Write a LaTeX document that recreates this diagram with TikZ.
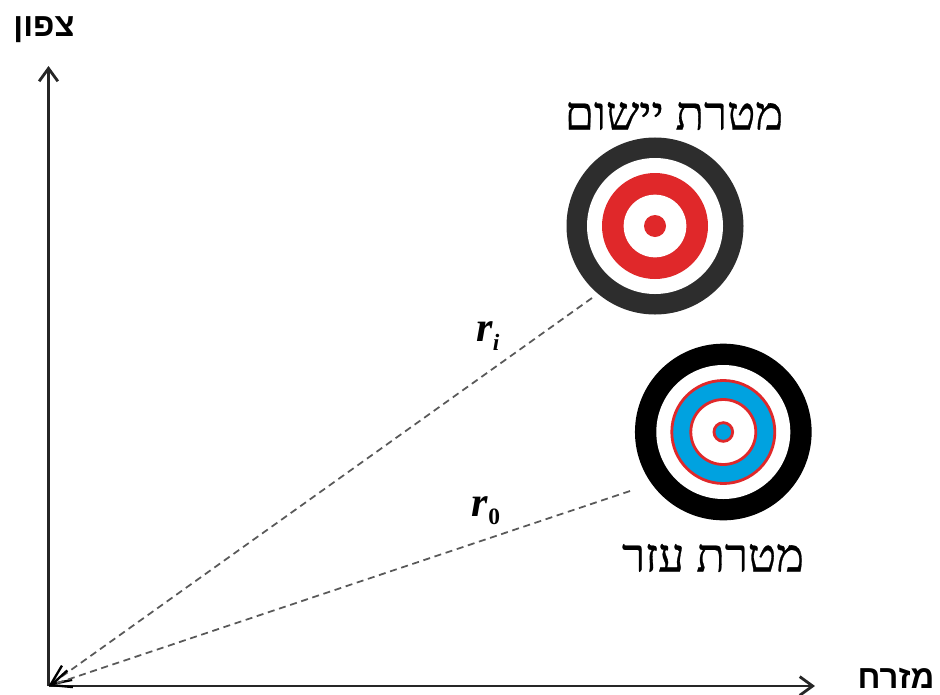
\documentclass[tikz,border=0pt]{standalone}
\usepackage{fontspec}
\usetikzlibrary{arrows.meta}
\TeXXeTstate=1
\newfontfamily\hebserif[Script=Hebrew,FakeBold=0.6]{Liberation Serif}
\newfontfamily\hebsans[Script=Hebrew]{Liberation Sans}
\setmainfont{Liberation Serif}
\definecolor{ringdark}{HTML}{2D2D2D}
\definecolor{ringred}{HTML}{E0282A}
\definecolor{ringblue}{HTML}{00A2E0}
\newcommand{\raysub}[1]{\raisebox{-7pt}{\fontsize{20}{20}\selectfont #1}}
\tikzset{
  axisline/.style={-{Straight Barb[length=11pt,width=16pt]},line width=2.4pt,black!85},
  rayline/.style={-{Straight Barb[length=17pt,width=15pt,color=black,line width=2pt]},dash pattern=on 6pt off 4pt,line width=1.5pt,black!65},
  ring/.style={circle,inner sep=0pt,fill=#1},
  thinring/.style={circle,inner sep=0pt,fill=#1,draw=ringred,line width=2.4pt},
  targetlabel/.style={font=\hebserif\fontsize{40}{40}\selectfont},
  axislabel/.style={font=\hebsans\bfseries\fontsize{28}{28}\selectfont},
  raylabel/.style={font=\bfseries\itshape\fontsize{36}{36}\selectfont}
}
\begin{document}
\begin{tikzpicture}[x=0.03cm,y=-0.03cm]
\useasboundingbox (0,0) rectangle (940,695);
\coordinate (origin) at (48.5,686);
\coordinate (north) at (48.5,66);
\coordinate (east) at (815,686);
\coordinate (rayi) at (592,298);
\coordinate (rayo) at (630,491);
\draw[axisline] (origin)--(north);
\draw[axisline] (origin)--(east);
\draw[rayline] (rayi)--(origin);
\draw[rayline] (rayo)--(origin);
\node[ring=ringdark,minimum size=5.31cm] (maintarget) at (655,226) {};
\node[ring=white,minimum size=4.08cm] (mainwhite) at (maintarget) {};
\node[ring=ringred,minimum size=3.18cm] (mainred) at (maintarget) {};
\node[ring=white,minimum size=1.88cm] (maininner) at (maintarget) {};
\node[ring=ringred,minimum size=0.66cm] (maindot) at (maintarget) {};
\node[ring=black,minimum size=5.3cm] (auxtarget) at (723.3,432) {};
\node[ring=white,minimum size=4.02cm] (auxwhite) at (auxtarget) {};
\node[thinring=ringblue,minimum size=3.09cm] (auxblue) at (auxtarget) {};
\node[thinring=white,minimum size=1.95cm] (auxinner) at (auxtarget) {};
\node[thinring=ringblue,minimum size=0.56cm] (auxdot) at (auxtarget) {};
\node[targetlabel] (mainlabel) at (674,116) {\beginR מטרת יישום\endR};
\node[targetlabel] (auxlabel) at (713,558) {\beginR מטרת עזר\endR};
\node[axislabel] (northlabel) at (44,30) {\beginR צפון\endR};
\node[axislabel,anchor=base] (eastlabel) at (896,688) {\beginR מזרח\endR};
\node[raylabel] (rilabel) at (488,336) {r\raysub{i}};
\node[raylabel] (rolabel) at (486,511) {r\raysub{\upshape 0}};
\end{tikzpicture}
\end{document}
